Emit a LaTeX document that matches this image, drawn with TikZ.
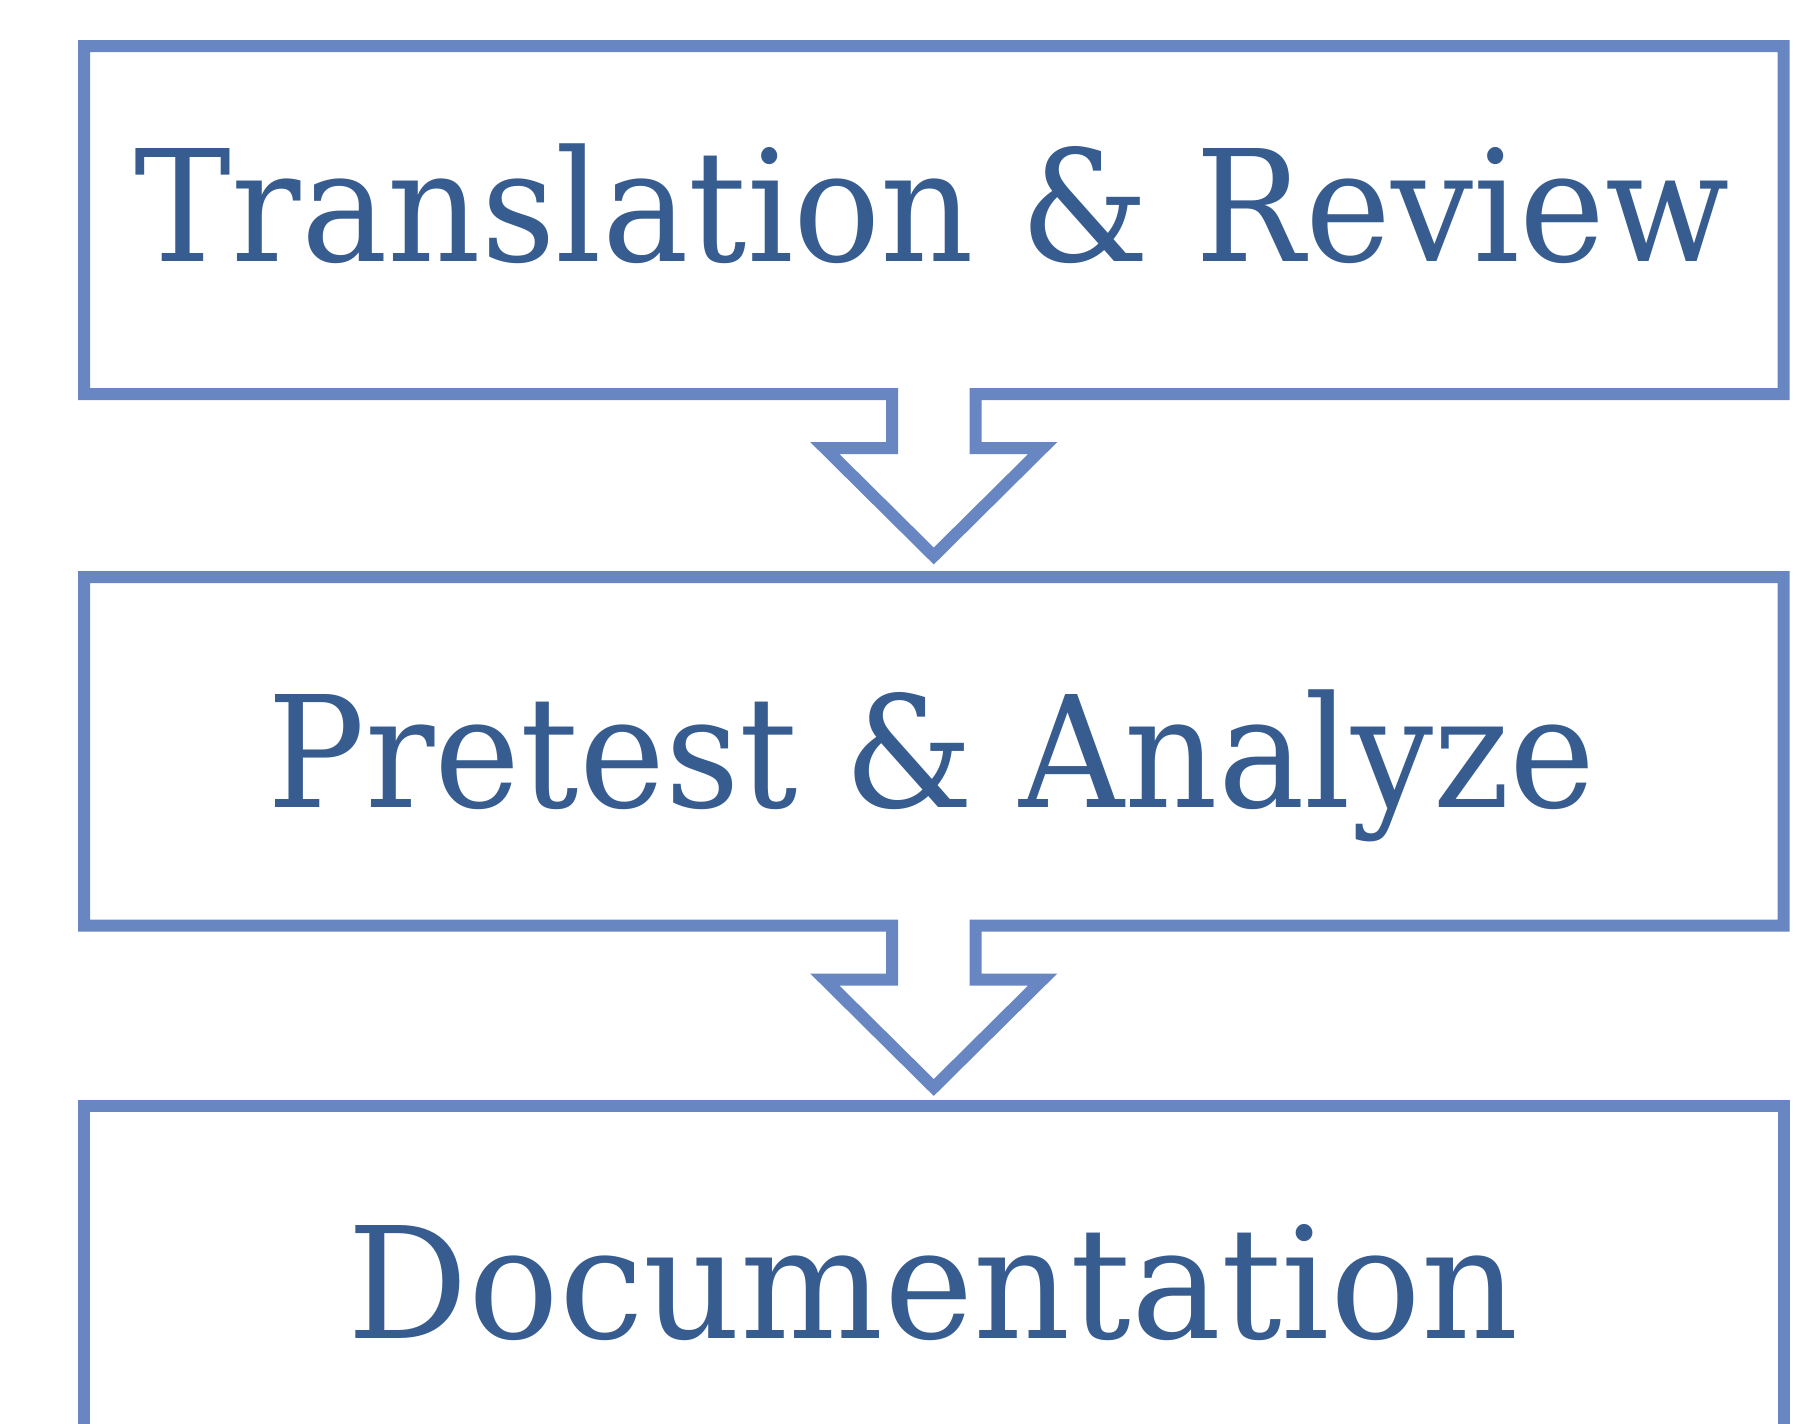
\documentclass[tikz,border=0pt]{standalone}
\usepackage{fontspec}
\setmainfont{DejaVu Serif}
\usetikzlibrary{calc}

\definecolor{flowline}{RGB}{104,135,194}
\definecolor{flowtext}{RGB}{55,92,143}

\tikzset{
  outline/.style={draw=flowline, line width=6pt, miter limit=10},
  boxframe/.style={rectangle, inner sep=0pt, outer sep=0pt, minimum width=849.75pt},
  steptext/.style={text=flowtext, inner sep=0pt, anchor=base,
    font=\fontsize{77.5pt}{80pt}\selectfont},
}

% squeeze a label horizontally to a given width, keeping its height
\newcommand{\fitwidth}[2]{\resizebox{#1}{\height}{#2}}

% box outline with an open block arrow hanging from its bottom edge
\newcommand{\framedown}[1]{%
  \draw[outline] ($(#1.south)+(-41.75,0)$) -- (#1.south west) -- (#1.north west)
    -- (#1.north east) -- (#1.south east) -- ($(#1.south)+(41.75,0)$)
    -- ++(0,54) -- ++(67.25,0) -- ($(#1.south)+(0,162)$)
    -- ($(#1.south)+(-109,54)$) -- ++(67.25,0) -- cycle;}

\begin{document}
\begin{tikzpicture}[x=0.5pt, y=-0.5pt]
  \fill[white] (0,0) rectangle (1800,1424);
  \clip (0,0) rectangle (1800,1424);

  % frames of the three steps
  \node[boxframe, minimum height=174pt]    (box1) at (933.75,220) {};
  \node[boxframe, minimum height=174.25pt] (box2) at (933.75,751.25) {};
  \node[boxframe, minimum height=174.25pt] (box3) at (933.75,1280.25) {};

  \framedown{box1}
  \framedown{box2}
  \draw[outline] (box3.south west) rectangle (box3.north east);

  % step labels
  \node[steptext] (t1) at (932.5,261.5) {\fitwidth{797.5pt}{Translation \& Review}};
  \node[steptext] (t2) at (931.6,807.3)  {\fitwidth{664.2pt}{Pretest \& Analyze}};
  \node[steptext] (t3) at (932.8,1338.7) {\fitwidth{585.4pt}{Documentation}};
\end{tikzpicture}
\end{document}
